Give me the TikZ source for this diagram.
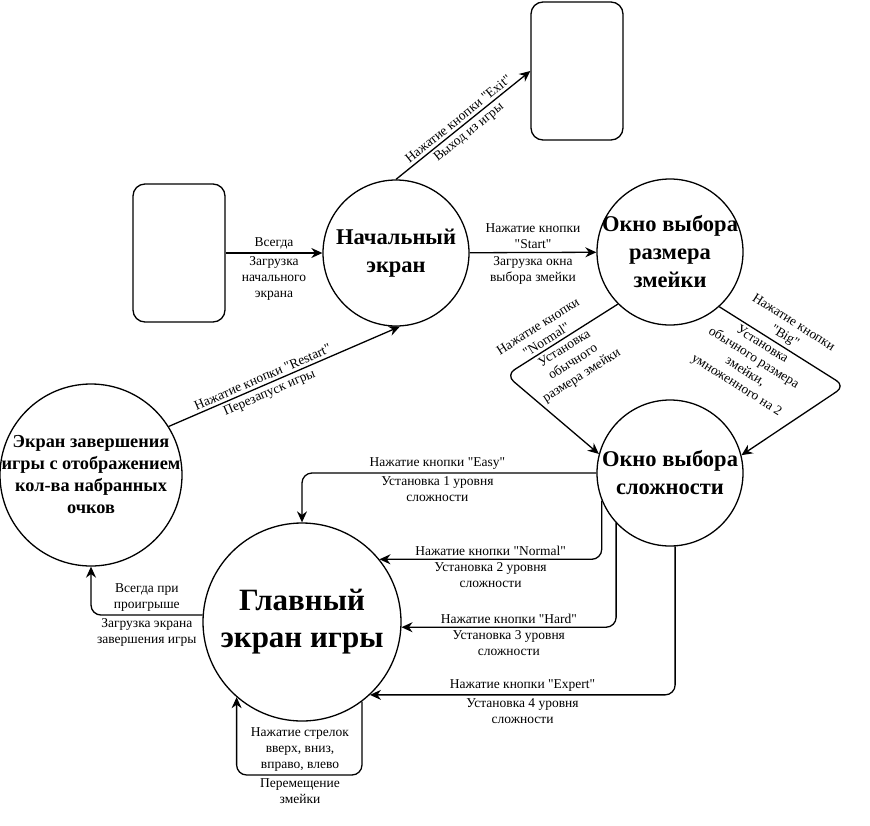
\documentclass[tikz,border=0pt]{standalone}
\usepackage{fontspec}
\setmainfont{Liberation Serif}[Ligatures=TeXOff]
\usetikzlibrary{arrows.meta}
\usetikzlibrary{positioning,calc}
\tikzset{
    screen/.style={
           circle,
           draw=black, line width=1.3pt,
           minimum size=146pt,
           inner sep=-20pt,
           align=center,
           font=\bfseries\fontsize{22.5}{28}\selectfont,
           },
    term/.style={
           rectangle,
           rounded corners=12pt,
           draw=black, line width=1.3pt,
           minimum width=92pt,
           minimum height=138pt,
           },
    lbl/.style={
           align=center,
           inner sep=3pt,
           font=\fontsize{13.5}{16}\selectfont,
           },
}

\begin{document}
\begin{tikzpicture}
[
x=1pt, y=-1pt,
->,>={Stealth[length=11pt,width=10pt]},
line width=1.3pt
]
\useasboundingbox (0,0) rectangle (870,825);

 % TERMINATORS
 \node[term] (INIT) at (179,253) {};
 \node[term] (EXIT) at (577,71) {};

 % SCREENS
 \node[screen] (START) at (396,253) {Начальный\\экран};
 \node[screen] (SIZEWIN) at (670,252) {Окно выбора\\размера\\змейки};
 \node[screen] (LEVELWIN) at (670,473) {Окно выбора\\сложности};
 \node[screen,
 minimum size=182pt,
 font=\bfseries\fontsize{18.3}{22}\selectfont] (GAMEOVER) at (91,475)
 {Экран завершения\\игры с отображением\\кол-ва набранных\\очков};
 \node[screen,
 minimum size=198pt,
 font=\bfseries\fontsize{31}{37}\selectfont] (GAME) at (302,622)
 {Главный\\экран игры};

 % bends of the connectors
 \coordinate (NRMBEND) at (506,375);
 \coordinate (BIGBEND) at (845,386);
 \coordinate (MOVEBOT) at (300,775);

 % start screen
 \draw (INIT) -- (START)
  node[lbl, midway, above] {Всегда}
  node[lbl, midway, below] {Загрузка\\начального\\экрана};
 \draw (START.north) -- (EXIT.west)
  node[lbl, midway, above, sloped] {Нажатие кнопки "Exit"}
  node[lbl, midway, below, sloped] {Выход из игры};
 \draw (START) -- (SIZEWIN)
  node[lbl, midway, above] {Нажатие кнопки\\"Start"}
  node[lbl, midway, below] {Загрузка окна\\выбора змейки};
 \draw (GAMEOVER.32) -- (START.-87)
  node[lbl, pos=0.42, above, sloped] {Нажатие кнопки "Restart"}
  node[lbl, pos=0.42, below, sloped] {Перезапуск игры};

 % snake size
 \draw[rounded corners=10pt] (SIZEWIN.-135)
  -- node[lbl, pos=0.6, above, sloped] {Нажатие кнопки\\"Normal"}
     node[lbl, pos=0.52, below, sloped] {Установка\\обычного\\размера змейки}
  (NRMBEND) -- (LEVELWIN.165);
 \draw[rounded corners=10pt] (SIZEWIN.-48)
  -- node[lbl, pos=0.48, above, sloped] {Нажатие кнопки\\"Big"}
     node[lbl, pos=0.38, below, sloped] {Установка\\обычного размера\\змейки,\\умноженного на 2}
  (BIGBEND) -- (LEVELWIN.14);

 % difficulty
 \draw[rounded corners=10pt] (LEVELWIN.west) -| (GAME)
  node[lbl, pos=0.27, above] {Нажатие кнопки "Easy"}
  node[lbl, pos=0.27, below] {Установка 1 уровня\\сложности};
 \draw[rounded corners=10pt] (LEVELWIN.-158) |- (GAME.39)
  node[lbl, pos=0.75, above] {Нажатие кнопки "Normal"}
  node[lbl, pos=0.75, below] {Установка 2 уровня\\сложности};
 \draw[rounded corners=10pt] (LEVELWIN.-137) |- (GAME.-3)
  node[lbl, pos=0.75, above] {Нажатие кнопки "Hard"}
  node[lbl, pos=0.75, below] {Установка 3 уровня\\сложности};
 \draw[rounded corners=10pt] (LEVELWIN.-86) |- (GAME.-47)
  node[lbl, pos=0.75, above] {Нажатие кнопки "Expert"}
  node[lbl, pos=0.75, below] {Установка 4 уровня\\сложности};

 % game screen
 \draw[rounded corners=10pt] (GAME.176) -| (GAMEOVER)
  node[lbl, pos=0.25, above] {Всегда при\\проигрыше}
  node[lbl, pos=0.25, below] {Загрузка экрана\\завершения игры};
 \draw[rounded corners=10pt] (GAME.-53) |- (MOVEBOT)
  node[lbl, above] {Нажатие стрелок\\вверх, вниз,\\вправо, влево}
  node[lbl, below] {Перемещение\\змейки}
  -| (GAME.-131);
\end{tikzpicture}
\end{document}
